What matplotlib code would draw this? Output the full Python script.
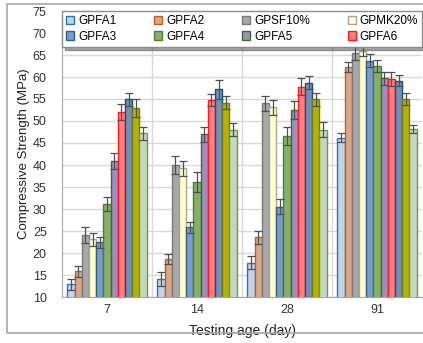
import numpy as np
import matplotlib
matplotlib.use("Agg")
import matplotlib.pyplot as plt
from matplotlib.patches import Rectangle

plt.rcParams['font.family'] = ['Liberation Sans', 'DejaVu Sans']

ages = ['7', '14', '28', '91']
series = ['GPFA1', 'GPFA2', 'GPSF10%', 'GPMK20%', 'GPFA3', 'GPFA4',
          'GPFA5', 'GPFA6', 'S9', 'S10', 'S11']

# compressive strength (MPa) per series, one value per age
gpfa1 = [12.9, 14.1, 17.8, 46.2]
gpfa2 = [15.8, 18.6, 23.6, 62.3]
gpsf10 = [24.1, 40.0, 54.0, 65.4]
gpmk20 = [23.1, 39.3, 53.1, 66.0]
gpfa3 = [22.4, 25.8, 30.5, 63.7]
gpfa4 = [31.1, 36.1, 46.6, 62.5]
gpfa5 = [40.9, 47.0, 52.5, 59.7]
gpfa6 = [52.1, 54.8, 57.8, 59.5]
s9 = [54.9, 57.2, 58.7, 59.2]
s10 = [52.9, 54.2, 54.9, 55.0]
s11 = [47.2, 48.0, 48.0, 48.2]

# error (+/-)
gpfa1_err = [1.2, 1.5, 1.5, 1.0]
gpfa2_err = [1.3, 1.2, 1.5, 1.1]
gpsf10_err = [1.9, 2.0, 1.7, 1.5]
gpmk20_err = [1.5, 1.7, 1.7, 1.3]
gpfa3_err = [1.3, 1.3, 1.7, 1.5]
gpfa4_err = [1.6, 2.2, 2.1, 1.4]
gpfa5_err = [1.8, 1.7, 2.0, 1.5]
gpfa6_err = [1.8, 1.4, 1.9, 1.6]
s9_err = [1.5, 2.1, 1.5, 1.2]
s10_err = [2.0, 1.4, 1.4, 1.4]
s11_err = [1.5, 1.5, 1.7, 1.0]

values = [gpfa1, gpfa2, gpsf10, gpmk20, gpfa3, gpfa4, gpfa5, gpfa6, s9, s10, s11]
errors = [gpfa1_err, gpfa2_err, gpsf10_err, gpmk20_err, gpfa3_err, gpfa4_err,
          gpfa5_err, gpfa6_err, s9_err, s10_err, s11_err]

fills = ['#c5d3e2', '#d9a88a', '#a8a8a8', '#ffffc8', '#7b9cc4', '#84b068',
         '#a08dc2', '#ff7f84', '#7290b8', '#b2b200', '#c6d6bf']
edges = ['#2e75b6', '#c0601a', '#7a7a7a', '#a6a6a6', '#2d5f91', '#4f7f30',
         '#3d6b2c', '#ff1a1a', '#1f4e79', '#7a7a10', '#6a9a4c']

fig = plt.figure(figsize=(4.23, 3.43), dpi=100)
ax = fig.add_axes([62 / 423, 1 - 297 / 343, 360 / 423, 286 / 343])

# outer frame
fig.patches.append(Rectangle((7 / 423, 1 - 333 / 343), 1.2, 329 / 343,
                             transform=fig.transFigure, fill=False,
                             edgecolor='#a6a6a6', linewidth=1.2))

x = np.arange(len(ages))
width = 0.08
n = len(series)
handles = []
for i in range(n):
    pos = x + (i - (n - 1) / 2) * width
    b = ax.bar(pos, values[i], width, bottom=0, color=fills[i], edgecolor=edges[i],
               linewidth=1.0, label=series[i], zorder=3)
    ax.errorbar(pos, values[i], yerr=errors[i], fmt='none', ecolor='#505050',
                elinewidth=0.9, capsize=2.8, capthick=0.9, zorder=4)
    handles.append(b)

ax.set_ylim(10, 75)
ax.set_xlim(-0.5, 3.5)
ax.set_yticks(np.arange(10, 76, 5))
ax.set_xticks(x)
ax.set_xticklabels(ages)
ax.tick_params(axis='both', length=0, labelsize=9, colors='#333333', pad=5)
ax.tick_params(axis='y', pad=16)
for t in ax.get_yticklabels():
    t.set_horizontalalignment('center')

ax.set_axisbelow(True)
ax.yaxis.grid(True, color='#d9d9d9', linewidth=1.0)
for xb in [0.5, 1.5, 2.5]:
    ax.axvline(xb, color='#d9d9d9', linewidth=1.0, zorder=0)

for s in ['top', 'right']:
    ax.spines[s].set_visible(False)
ax.spines['left'].set_color('#a6a6a6')
ax.spines['bottom'].set_color('#a6a6a6')

ax.set_xlabel('Testing age (day)', fontsize=10, color='#222222', labelpad=6)
ax.set_ylabel('Compressive Strength (MPa)', fontsize=9.5, color='#222222', labelpad=2)

# legend shows only the first eight series, filled row by row
order = [0, 4, 1, 5, 2, 6, 3, 7]
leg = ax.legend([handles[k] for k in order], [series[k] for k in order],
                loc='upper left', ncol=4,
                bbox_to_anchor=(0.0, 1.0, 1.0, 0.0), mode='expand',
                fontsize=8.5, frameon=True, fancybox=False, shadow=True,
                handlelength=0.7, handleheight=0.7, handletextpad=0.3,
                borderpad=0.35, labelspacing=0.3, columnspacing=0.5,
                borderaxespad=0.0)
leg.get_frame().set_edgecolor('#8c8c8c')
leg.get_frame().set_linewidth(1.0)
leg.set_zorder(10)

fig.savefig('out.png', dpi=100)
